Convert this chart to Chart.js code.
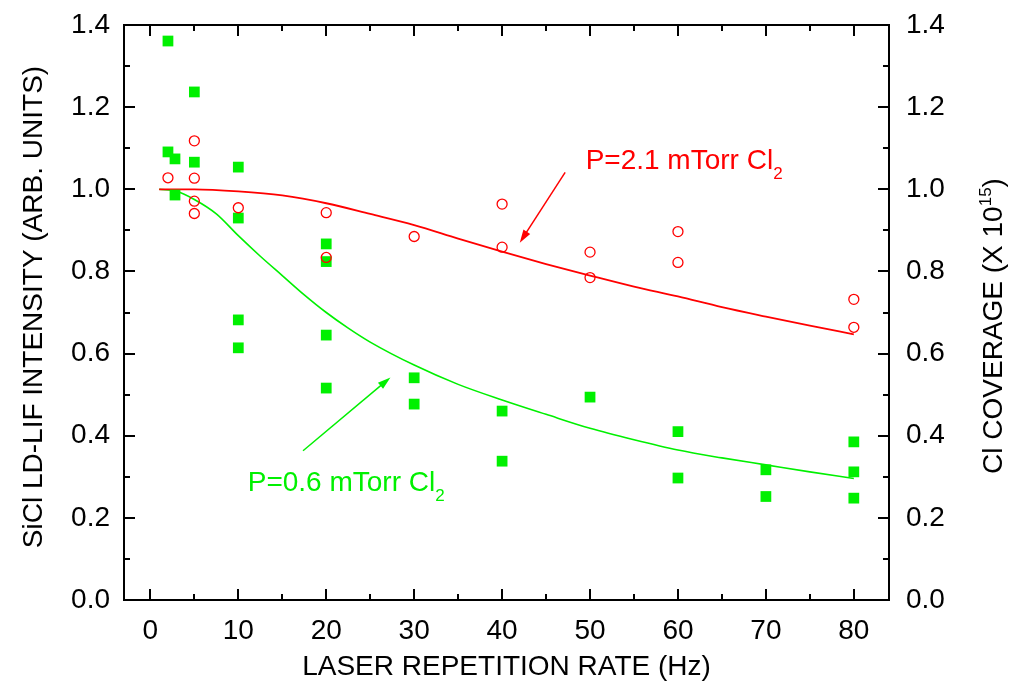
<!DOCTYPE html>
<html>
<head>
<meta charset="utf-8">
<script src="https://cdn.jsdelivr.net/npm/chart.js@4.4.1/dist/chart.umd.min.js"></script>
<style>
  html, body { margin: 0; padding: 0; background: #fff; }
  #wrap { width: 1019px; height: 688px; position: relative; }
</style>
</head>
<body>
<div id="wrap"><canvas id="chart"></canvas></div>
<script>
(function () {
  "use strict";

  const squareX = [2, 2, 2.8, 2.8, 5, 5, 10, 10, 10, 10, 20, 20, 20, 20, 30, 30, 40, 40, 50, 60, 60, 70, 70, 80, 80, 80];
  const squareY = [1.361, 1.091, 1.074, 0.986, 1.237, 1.066, 1.054, 0.930, 0.682, 0.614, 0.867, 0.824, 0.645, 0.516, 0.541, 0.477, 0.460, 0.338, 0.494, 0.410, 0.297, 0.317, 0.252, 0.385, 0.312, 0.248];

  const circleX = [2, 5, 5, 5, 5, 10, 20, 20, 30, 40, 40, 50, 50, 60, 60, 80, 80];
  const circleY = [1.028, 1.118, 1.027, 0.971, 0.941, 0.955, 0.943, 0.834, 0.885, 0.964, 0.859, 0.847, 0.785, 0.897, 0.822, 0.732, 0.664];

  // 피팅 곡선
  const redFitX = [1, 5, 10, 15, 20, 25, 30, 35, 40, 45, 50, 55, 60, 65, 70, 75, 80];
  const redFitY = [1.0, 1.0, 0.995, 0.985, 0.966, 0.94, 0.913, 0.88, 0.848, 0.818, 0.79, 0.763, 0.739, 0.713, 0.690, 0.668, 0.647];

  const greenFitX = [1, 3, 5, 7.5, 10, 12.5, 15, 17.5, 20, 22.5, 25, 30, 35, 40, 45, 50, 55, 60, 65, 70, 75, 80];
  const greenFitY = [1.0, 0.995, 0.975, 0.94, 0.887, 0.837, 0.79, 0.743, 0.70, 0.662, 0.628, 0.572, 0.525, 0.487, 0.452, 0.418, 0.39, 0.365, 0.346, 0.329, 0.312, 0.296];

  const xTicks = [0, 10, 20, 30, 40, 50, 60, 70, 80];
  const yTicks = [0, 0.2, 0.4, 0.6, 0.8, 1.0, 1.2, 1.4];

  const RED = "#ff0000";
  const GREEN = "#00f000";
  const FONT = "'Liberation Sans', Arial, sans-serif";

  const pts = (xs, ys) => xs.map((x, i) => ({ x, y: ys[i] }));

  // 아래첨자/위첨자 포함 텍스트
  function drawParts(ctx, parts, x, y, align) {
    const big = "28px " + FONT;
    const small = "17px " + FONT;
    let total = 0;
    for (const p of parts) {
      ctx.font = p.sub || p.sup ? small : big;
      total += ctx.measureText(p.t).width;
    }
    let cx = align === "center" ? x - total / 2 : x;
    ctx.textAlign = "left";
    ctx.textBaseline = "alphabetic";
    for (const p of parts) {
      ctx.font = p.sub || p.sup ? small : big;
      const dy = p.sub ? 10 : p.sup ? -11 : 0;
      ctx.fillText(p.t, cx, y + dy);
      cx += ctx.measureText(p.t).width;
    }
  }

  function arrow(ctx, x1, y1, x2, y2, color) {
    const ang = Math.atan2(y2 - y1, x2 - x1);
    const len = 13, half = 4;
    ctx.strokeStyle = color;
    ctx.fillStyle = color;
    ctx.lineWidth = 1.5;
    ctx.beginPath();
    ctx.moveTo(x1, y1);
    ctx.lineTo(x2 - Math.cos(ang) * len * 0.8, y2 - Math.sin(ang) * len * 0.8);
    ctx.stroke();
    ctx.beginPath();
    ctx.moveTo(x2, y2);
    ctx.lineTo(x2 - Math.cos(ang) * len - Math.sin(ang) * half, y2 - Math.sin(ang) * len + Math.cos(ang) * half);
    ctx.lineTo(x2 - Math.cos(ang) * len + Math.sin(ang) * half, y2 - Math.sin(ang) * len - Math.cos(ang) * half);
    ctx.closePath();
    ctx.fill();
  }

  const framePlugin = {
    id: "frame",
    afterDraw(chart) {
      const ctx = chart.ctx;
      const a = chart.chartArea;
      const xs = chart.scales.x;
      const ys = chart.scales.y;
      ctx.save();
      ctx.strokeStyle = "#000";
      ctx.lineWidth = 2;
      ctx.strokeRect(a.left, a.top, a.right - a.left, a.bottom - a.top);

      ctx.beginPath();
      const major = 11, minor = 6;
      for (let v = 0; v <= 80; v += 5) {
        const px = Math.round(xs.getPixelForValue(v));
        const l = v % 10 === 0 ? major : minor;
        ctx.moveTo(px, a.bottom); ctx.lineTo(px, a.bottom - l);
        ctx.moveTo(px, a.top); ctx.lineTo(px, a.top + l);
      }
      for (let i = 0; i <= 14; i++) {
        const py = Math.round(ys.getPixelForValue(i / 10));
        const l = i % 2 === 0 ? major : minor;
        ctx.moveTo(a.left, py); ctx.lineTo(a.left + l, py);
        ctx.moveTo(a.right, py); ctx.lineTo(a.right - l, py);
      }
      ctx.stroke();

      // 축 제목
      ctx.fillStyle = "#000";
      drawParts(ctx, [{ t: "LASER REPETITION RATE (Hz)" }], (a.left + a.right) / 2, 675, "center");

      ctx.save();
      ctx.translate(42, 307);
      ctx.rotate(-Math.PI / 2);
      drawParts(ctx, [{ t: "SiCl LD-LIF INTENSITY (ARB. UNITS)" }], 0, 0, "center");
      ctx.restore();

      ctx.save();
      ctx.translate(1002, 326);
      ctx.rotate(-Math.PI / 2);
      drawParts(ctx, [{ t: "Cl COVERAGE (X 10" }, { t: "15", sup: true }, { t: ")" }], 0, 0, "center");
      ctx.restore();

      // 주석
      const X = (v) => xs.getPixelForValue(v);
      const Y = (v) => ys.getPixelForValue(v);
      ctx.fillStyle = RED;
      drawParts(ctx, [{ t: "P=2.1 mTorr Cl" }, { t: "2", sub: true }], X(49.5), Y(1.049), "left");
      arrow(ctx, X(47.17), Y(1.041), X(42.01), Y(0.870), RED);

      ctx.fillStyle = GREEN;
      drawParts(ctx, [{ t: "P=0.6 mTorr Cl" }, { t: "2", sub: true }], X(11.07), Y(0.265), "left");
      arrow(ctx, X(17.36), Y(0.3635), X(27.30), Y(0.542), GREEN);

      ctx.restore();
    },
  };

  const tickFont = { family: FONT, size: 28 };

  function fitY(width) {
    return (s) => {
      s.width = width;
      s.paddingTop = 0;
      s.paddingBottom = 0;
    };
  }

  new Chart(document.getElementById("chart"), {
    type: "scatter",
    data: {
      datasets: [
        {
          label: "SiCl 0.6",
          data: pts(squareX, squareY),
          pointStyle: "rect",
          pointRadius: 7.6,
          backgroundColor: GREEN,
          borderWidth: 0,
          order: 1,
        },
        {
          label: "SiCl 2.1",
          data: pts(circleX, circleY),
          pointStyle: "circle",
          pointRadius: 5,
          backgroundColor: "rgba(0,0,0,0)",
          borderColor: RED,
          borderWidth: 1.3,
          order: 0,
        },
        {
          label: "fit 2.1",
          data: pts(redFitX, redFitY),
          showLine: true,
          borderColor: RED,
          borderWidth: 1.8,
          pointRadius: 0,
          cubicInterpolationMode: "monotone",
          order: 2,
        },
        {
          label: "fit 0.6",
          data: pts(greenFitX, greenFitY),
          showLine: true,
          borderColor: GREEN,
          borderWidth: 1.6,
          pointRadius: 0,
          cubicInterpolationMode: "monotone",
          order: 3,
        },
      ],
    },
    options: {
      responsive: true,
      maintainAspectRatio: false,
      animation: false,
      layout: { padding: { top: 25, left: 0, right: 0, bottom: 0 } },
      plugins: {
        legend: { display: false },
        tooltip: { enabled: false },
      },
      scales: {
        x: {
          type: "linear",
          min: -3,
          max: 84,
          grid: { display: false, drawTicks: false },
          border: { display: false },
          afterBuildTicks: (s) => { s.ticks = xTicks.map((v) => ({ value: v })); },
          afterFit: (s) => { s.height = 88; s.paddingLeft = 0; s.paddingRight = 0; },
          ticks: { color: "#000", font: tickFont, padding: 14, maxRotation: 0, callback: (v) => String(v) },
        },
        y: {
          min: 0,
          max: 1.4,
          position: "left",
          grid: { display: false, drawTicks: false },
          border: { display: false },
          afterBuildTicks: (s) => { s.ticks = yTicks.map((v) => ({ value: v })); },
          afterFit: fitY(124),
          ticks: { color: "#000", font: tickFont, padding: 14, callback: (v) => v.toFixed(1) },
        },
        y2: {
          min: 0,
          max: 1.4,
          position: "right",
          grid: { display: false, drawTicks: false },
          border: { display: false },
          afterBuildTicks: (s) => { s.ticks = yTicks.map((v) => ({ value: v })); },
          afterFit: fitY(130),
          ticks: { color: "#000", font: tickFont, padding: 17, callback: (v) => v.toFixed(1) },
        },
      },
    },
    plugins: [framePlugin],
  });
})();
</script>
</body>
</html>
